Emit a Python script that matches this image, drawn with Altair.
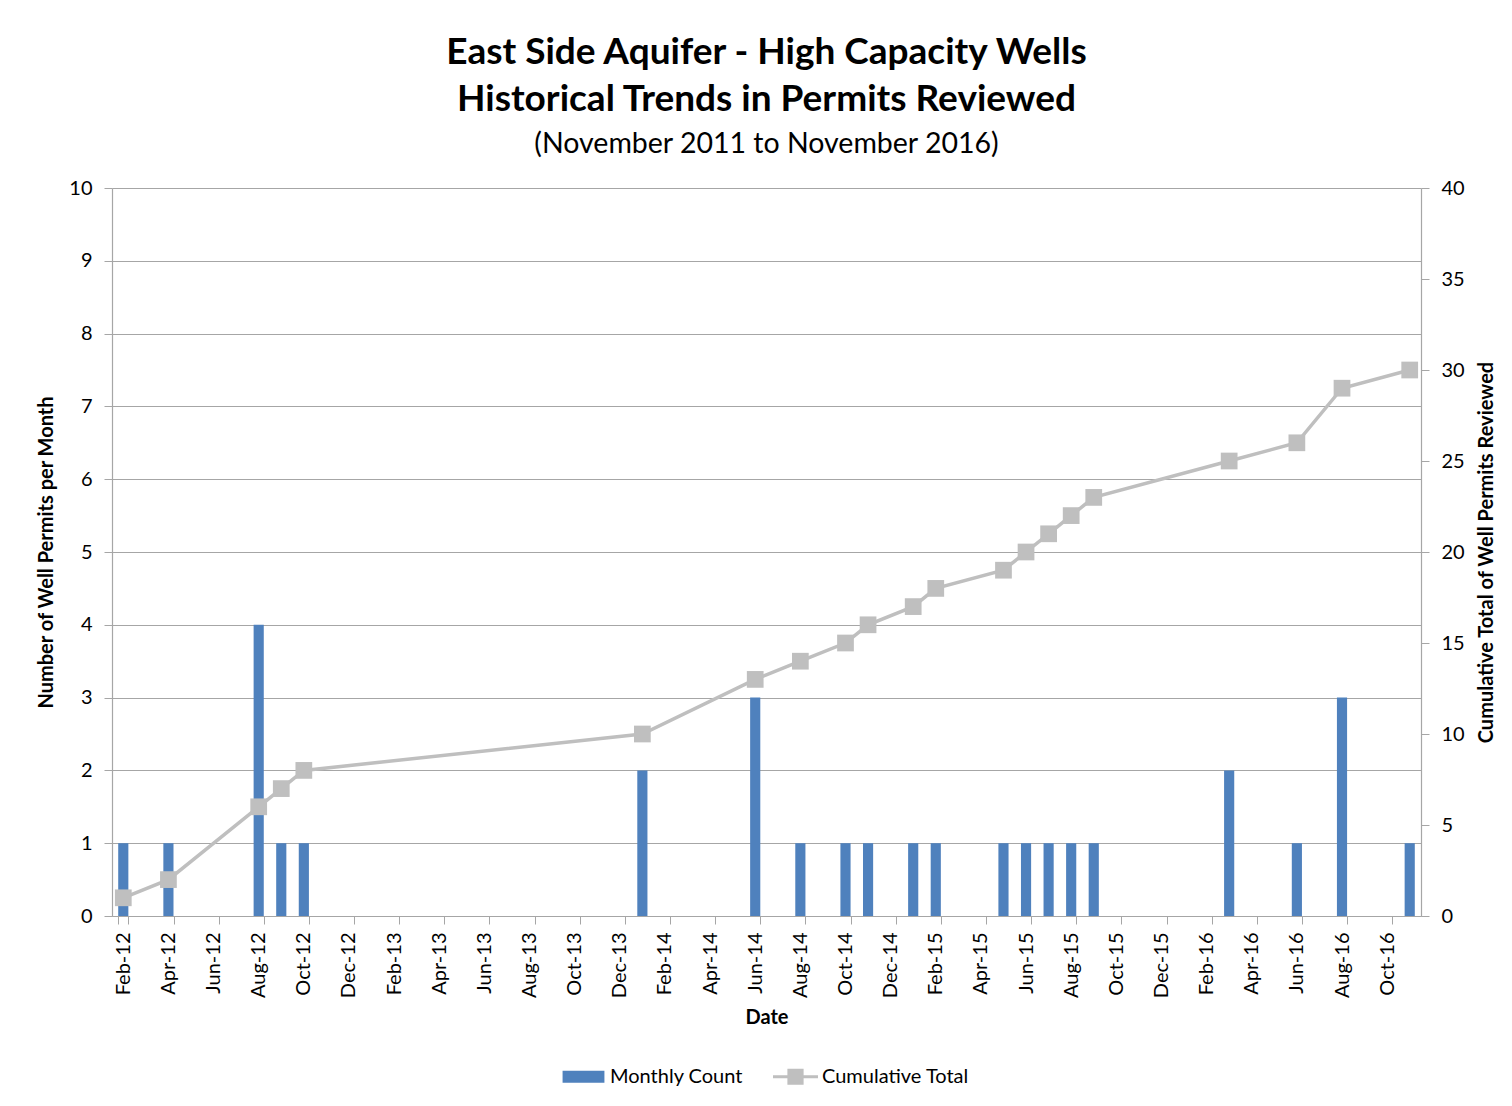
import altair as alt
import pandas as pd

# All month categories on the x axis (Feb-12 .. Nov-16)
month_labels = [d.strftime("%b-%y") for d in pd.date_range("2012-02-01", "2016-11-01", freq="MS")]
tick_labels = month_labels[::2]

# Months with permits reviewed
permit_months = ["Feb-12", "Apr-12", "Aug-12", "Sep-12", "Oct-12", "Jan-14", "Jun-14", "Aug-14",
                 "Oct-14", "Nov-14", "Jan-15", "Feb-15", "May-15", "Jun-15", "Jul-15", "Aug-15",
                 "Sep-15", "Mar-16", "Jun-16", "Aug-16", "Nov-16"]
monthly_count = [1, 1, 4, 1, 1, 2, 3, 1, 1, 1, 1, 1, 1, 1, 1, 1, 1, 2, 1, 3, 1]
cumulative_total = [1, 2, 6, 7, 8, 10, 13, 14, 15, 16, 17, 18, 19, 20, 21, 22, 23, 25, 26, 29, 30]

series_names = ["Monthly Count", "Cumulative Total"]
series_colors = ["#4F81BD", "#BFBFBF"]

df = pd.DataFrame({"month": permit_months, "count": monthly_count, "cum": cumulative_total})
legend_df = pd.DataFrame({"month": [month_labels[0]] * 2, "count": [-5, -5], "series": series_names})

FONT = "Lato"
GRID = "#A6A6A6"

x_enc = alt.X(
    "month:O",
    sort=month_labels,
    scale=alt.Scale(domain=month_labels, paddingInner=0.55, paddingOuter=0.275),
    axis=alt.Axis(
        title="Date", values=tick_labels, labelAngle=-90, labelAlign="right", labelBaseline="middle",
        labelPadding=8, tickSize=8, tickBand="extent", titlePadding=10, grid=False,
    ),
)

y_left = alt.Y(
    "count:Q",
    scale=alt.Scale(domain=[0, 10], nice=False),
    axis=alt.Axis(
        title="Number of Well Permits per Month", values=list(range(0, 11)), format="d", grid=True,
        tickSize=8, labelPadding=12, titlePadding=12,
    ),
)

bars = alt.Chart(df).mark_bar(color=series_colors[0]).encode(x=x_enc, y=y_left)

legend_shapes = [
    "M-0.93,-0.27H0.93V0.27H-0.93Z",
    "M-1,-0.07H-0.36V-0.36H0.36V-0.07H1V0.07H0.36V0.36H-0.36V0.07H-1Z",
]
leg = alt.Legend(title=None, orient="none", direction="horizontal", legendX=449, legendY=866)
legend_pts = alt.Chart(legend_df).mark_point(filled=True, opacity=1, clip=True).encode(
    x=alt.X("month:O", sort=month_labels),
    y=alt.Y("count:Q", title="Number of Well Permits per Month"),
    color=alt.Color("series:N", scale=alt.Scale(domain=series_names, range=series_colors), legend=leg),
    shape=alt.Shape("series:N", scale=alt.Scale(domain=series_names, range=legend_shapes), legend=leg),
)

y_right = alt.Y(
    "cum:Q",
    scale=alt.Scale(domain=[0, 40], nice=False),
    axis=alt.Axis(
        title="Cumulative Total of Well Permits Reviewed", orient="right", values=list(range(0, 41, 5)),
        grid=False, tickSize=8, labelPadding=12, titlePadding=12, titleAngle=270, titleBaseline="top",
    ),
)

line = alt.Chart(df).mark_line(color=series_colors[1], strokeWidth=3.5).encode(
    x=alt.X("month:O", sort=month_labels), y=y_right
)
points = alt.Chart(df).mark_point(filled=True, shape="square", size=280, color=series_colors[1], opacity=1).encode(
    x=alt.X("month:O", sort=month_labels), y=alt.Y("cum:Q")
)

chart = alt.layer(
    alt.layer(bars, legend_pts),
    alt.layer(line, points),
).resolve_scale(y="independent").properties(
    width=1309,
    height=728,
    padding={"left": 28, "right": 4, "top": 25, "bottom": 10},
    title=alt.TitleParams(
        text=["East Side Aquifer - High Capacity Wells", "Historical Trends in Permits Reviewed"],
        subtitle="(November 2011 to November 2016)",
        font=FONT, fontSize=37, fontWeight="bold", color="#000000",
        lineHeight=47, subtitleFont=FONT, subtitleFontSize=28.5, subtitleColor="#000000",
        subtitlePadding=11, offset=19, anchor="middle",
    ),
).configure_view(stroke=None).configure_axis(
    domainColor=GRID, tickColor=GRID, gridColor=GRID, gridWidth=1.2, domainWidth=1.2,
    labelFont=FONT, labelFontSize=20, labelColor="#000000",
    titleFont=FONT, titleFontSize=20, titleFontWeight="bold", titleColor="#000000",
).configure_legend(
    labelFont=FONT, labelFontSize=20, labelColor="#000000", symbolSize=2025,
    symbolStrokeWidth=0, columnPadding=30, labelOffset=4,
)

chart.save("out.html", embed_options={"renderer": "svg", "actions": False})
